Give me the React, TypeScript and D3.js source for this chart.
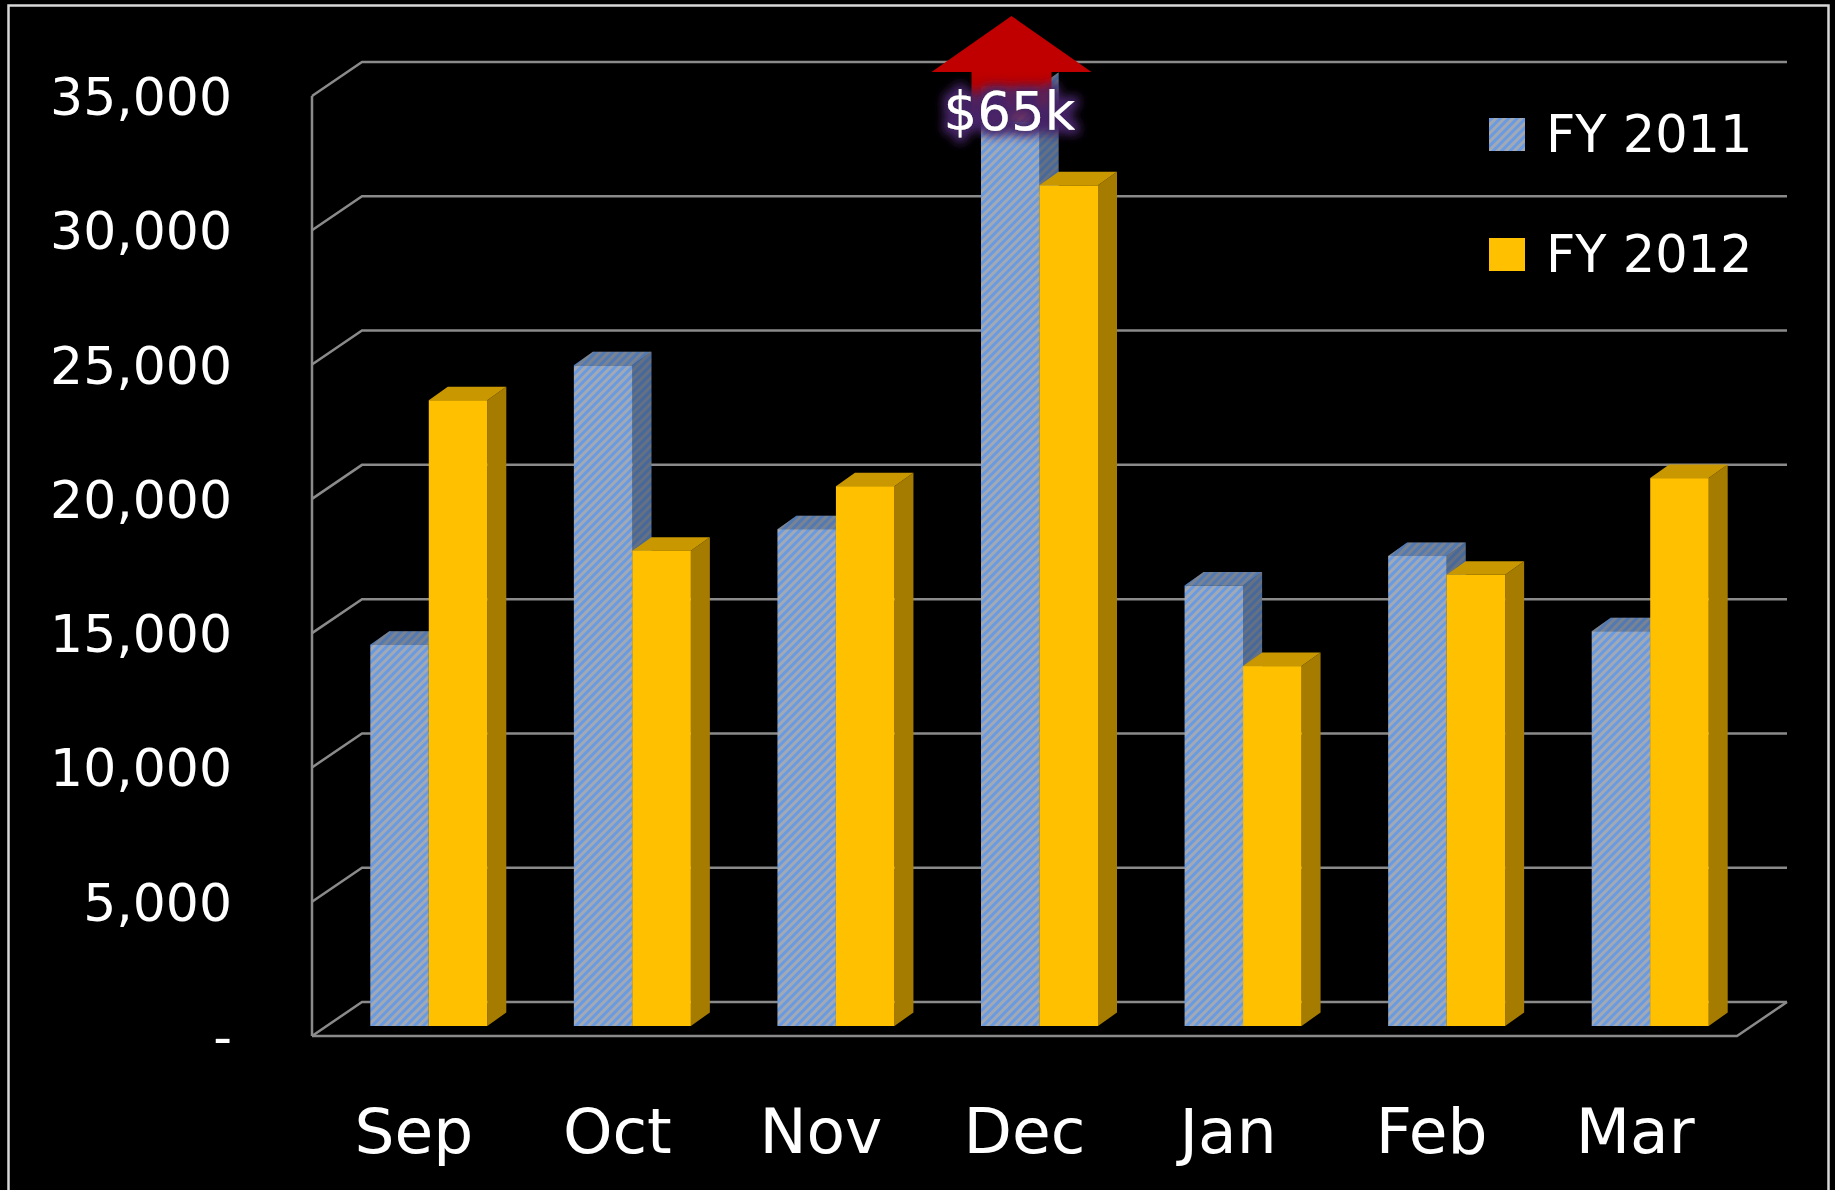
import React, { useEffect, useRef } from 'react';
import * as d3 from 'd3';

const months = ['Sep', 'Oct', 'Nov', 'Dec', 'Jan', 'Feb', 'Mar'];
const seriesNames = ['FY 2011', 'FY 2012'];
const fy2011 = [14200, 24600, 18500, 65000, 16400, 17500, 14700];
const fy2012 = [23300, 17700, 20100, 31300, 13400, 16800, 20400];
const yTicks = [0, 5000, 10000, 15000, 20000, 25000, 30000, 35000];
const calloutText = '$65k';

const W = 1835;
const H = 1190;

export default function App() {
    const ref = useRef<SVGSVGElement | null>(null);

    useEffect(() => {
        document.body.style.margin = '0';
        document.body.style.background = '#000';
        const svg = d3.select(ref.current);
        svg.selectAll('*').remove();

        const font = '"DejaVu Sans", Verdana, sans-serif';
        const gridColor = '#8a8a8a';

        // front plane of the "3d" box, back wall is shifted by (depthX, -depthY)
        const depthX = 50;
        const depthY = 34;
        const barShiftX = 15;
        const barShiftY = 10;
        const sideX = 19;
        const sideY = 13.5;

        const x0 = d3.scaleBand<string>().domain(months).range([312, 1737]).padding(0);
        const step = x0.bandwidth();
        const groupW = 117;
        const x1 = d3.scaleBand<string>().domain(seriesNames)
            .range([(step - groupW) / 2, (step + groupW) / 2]).padding(0);
        const y = d3.scaleLinear().domain([0, 35000]).range([1036, 96]);
        const yMax = 35000;

        const defs = svg.append('defs');

        // hatched blue fill
        const hatch = defs.append('pattern')
            .attr('id', 'hatch')
            .attr('patternUnits', 'userSpaceOnUse')
            .attr('width', 6)
            .attr('height', 6)
            .attr('patternTransform', 'rotate(45)');
        hatch.append('rect').attr('width', 6).attr('height', 6).attr('fill', '#6a9be0');
        hatch.append('rect').attr('width', 3).attr('height', 6).attr('fill', '#a2a9b4');

        const glow = defs.append('filter')
            .attr('id', 'glow')
            .attr('x', '-30%').attr('y', '-60%')
            .attr('width', '160%').attr('height', '220%');
        glow.append('feMorphology').attr('in', 'SourceAlpha').attr('operator', 'dilate')
            .attr('radius', 5).attr('result', 'thick');
        glow.append('feGaussianBlur').attr('in', 'thick').attr('stdDeviation', 5).attr('result', 'blur');
        glow.append('feFlood').attr('flood-color', '#452467').attr('flood-opacity', 1);
        glow.append('feComposite').attr('in2', 'blur').attr('operator', 'in').attr('result', 'halo');
        const merge = glow.append('feMerge');
        merge.append('feMergeNode').attr('in', 'halo');
        merge.append('feMergeNode').attr('in', 'SourceGraphic');

        const shaftGrad = defs.append('linearGradient')
            .attr('id', 'shaft').attr('x1', 0).attr('y1', 0).attr('x2', 0).attr('y2', 1);
        shaftGrad.append('stop').attr('offset', '0%').attr('stop-color', '#c00000').attr('stop-opacity', 1);
        shaftGrad.append('stop').attr('offset', '55%').attr('stop-color', '#c00000').attr('stop-opacity', 0.9);
        shaftGrad.append('stop').attr('offset', '100%').attr('stop-color', '#c00000').attr('stop-opacity', 0.4);

        // outer frame
        svg.append('rect')
            .attr('x', 8.5).attr('y', 5.5)
            .attr('width', 1820).attr('height', 1200)
            .attr('fill', 'none')
            .attr('stroke', '#d8d8d8')
            .attr('stroke-width', 2.5);

        // grid on back wall + left wall diagonals
        const xL = x0.range()[0];
        const xR = x0.range()[1];
        const grid = svg.append('g').attr('stroke', gridColor).attr('stroke-width', 2.5).attr('fill', 'none');
        yTicks.forEach((t) => {
            const yy = y(t);
            grid.append('path')
                .attr('d', `M${xL},${yy}L${xL + depthX},${yy - depthY}L${xR + depthX},${yy - depthY}`);
        });
        grid.append('line')
            .attr('x1', xL).attr('y1', y(yMax))
            .attr('x2', xL).attr('y2', y(0));
        grid.append('path')
            .attr('d', `M${xL},${y(0)}L${xR},${y(0)}L${xR + depthX},${y(0) - depthY}`);

        // y labels
        const fmt = d3.format(',');
        svg.append('g')
            .selectAll('text')
            .data(yTicks)
            .join('text')
            .attr('x', 232)
            .attr('y', (d) => y(d) + 19)
            .attr('text-anchor', 'end')
            .attr('font-family', font)
            .attr('font-size', 52)
            .attr('fill', '#fff')
            .text((d) => (d === 0 ? '-' : fmt(d)));

        // bars
        const bars = svg.append('g');
        months.forEach((m, i) => {
            [fy2011[i], fy2012[i]].forEach((v, s) => {
                const name = seriesNames[s];
                const bx = (x0(m) ?? 0) + (x1(name) ?? 0) + barShiftX;
                const bw = x1.bandwidth();
                const clipped = Math.min(v, yMax);
                const top = y(clipped) - barShiftY;
                const bottom = y(0) - barShiftY;
                const g = bars.append('g');
                const front = s === 0 ? 'url(#hatch)' : '#ffc000';
                const side = s === 0 ? 'url(#hatch)' : '#a67c00';
                const topFill = s === 0 ? 'url(#hatch)' : '#c99700';
                const sidePath = `M${bx + bw},${top}L${bx + bw + sideX},${top - sideY}L${bx + bw + sideX},${bottom - sideY}L${bx + bw},${bottom}Z`;
                const topPath = `M${bx},${top}L${bx + sideX},${top - sideY}L${bx + bw + sideX},${top - sideY}L${bx + bw},${top}Z`;

                g.append('path').attr('d', sidePath).attr('fill', side);
                if (s === 0) {
                    g.append('path').attr('d', sidePath)
                        .attr('fill', '#1b2a44').attr('fill-opacity', 0.45);
                }
                if (v <= yMax) {
                    g.append('path').attr('d', topPath).attr('fill', topFill);
                    if (s === 0) {
                        g.append('path').attr('d', topPath)
                            .attr('fill', '#1b2a44').attr('fill-opacity', 0.3);
                    }
                }
                g.append('rect')
                    .attr('x', bx).attr('y', top)
                    .attr('width', bw).attr('height', bottom - top)
                    .attr('fill', front);
            });
        });

        // callout arrow for the off-scale value
        const di = fy2011.findIndex((v) => v > yMax);
        if (di >= 0) {
            const cx = (x0(months[di]) ?? 0) + step / 2 - 13;
            const tipY = 16;
            const baseY = 72;
            svg.append('path')
                .attr('d', `M${cx - 40},${baseY - 1}L${cx + 40},${baseY - 1}L${cx + 40},${baseY + 50}L${cx - 40},${baseY + 50}Z`)
                .attr('fill', 'url(#shaft)');
            svg.append('path')
                .attr('d', `M${cx},${tipY}L${cx + 80},${baseY}L${cx - 80},${baseY}Z`)
                .attr('fill', '#c00000');
            svg.append('text')
                .attr('x', cx - 2)
                .attr('y', 130)
                .attr('text-anchor', 'middle')
                .attr('font-family', font)
                .attr('font-size', 53)
                .attr('fill', '#fff')
                .attr('filter', 'url(#glow)')
                .text(calloutText);
        }

        // category labels
        svg.append('g')
            .selectAll('text')
            .data(months)
            .join('text')
            .attr('x', (d) => (x0(d) ?? 0) + step / 2)
            .attr('y', 1153)
            .attr('text-anchor', 'middle')
            .attr('font-family', font)
            .attr('font-size', 63)
            .attr('fill', '#fff')
            .text((d) => d);

        // legend
        const legend = svg.append('g');
        seriesNames.forEach((name, i) => {
            const ly = 118 + i * 120;
            legend.append('rect')
                .attr('x', 1489).attr('y', ly)
                .attr('width', 36).attr('height', 33)
                .attr('fill', i === 0 ? 'url(#hatch)' : '#ffc000');
            legend.append('text')
                .attr('x', 1546).attr('y', ly + 34)
                .attr('font-family', font)
                .attr('font-size', 51)
                .attr('fill', '#fff')
                .text(name);
        });
    }, []);

    return (
        <svg ref={ref} width={W} height={H} style={{ display: 'block', background: '#000' }} />
    );
}
